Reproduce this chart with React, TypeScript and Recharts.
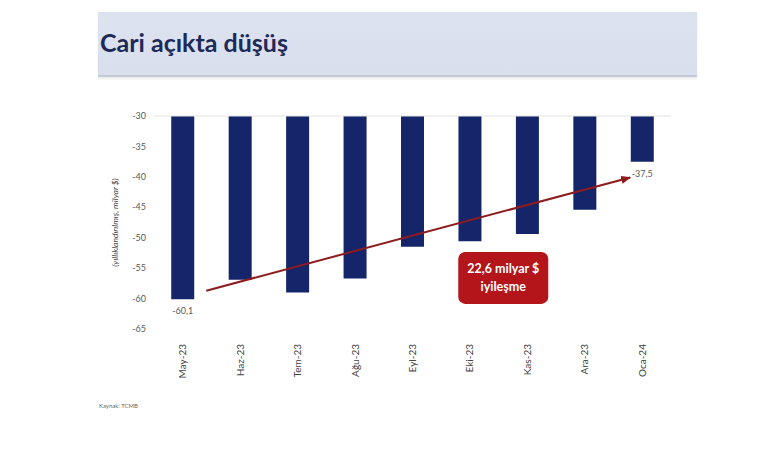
import React from "react";
import { BarChart, Bar, XAxis, YAxis, ReferenceLine, ReferenceDot, LabelList } from "recharts";

const months = ["May-23", "Haz-23", "Tem-23", "Ağu-23", "Eyl-23", "Eki-23", "Kas-23", "Ara-23", "Oca-24"];
const deficit = [-60.1, -56.9, -59.0, -56.7, -51.5, -50.6, -49.4, -45.4, -37.5];
const valueLabels = ["-60,1", "", "", "", "", "", "", "", "-37,5"];
const yTicks = [-30, -35, -40, -45, -50, -55, -60, -65];
// arrow endpoints: category + fractional band offset
const arrowStart = { cat: "May-23", offset: 0.41, y: -58.7 };
const arrowEnd = { cat: "Oca-24", offset: -0.21, y: -40.1 };
const boxPos = { cat: "Kas-23", offset: -0.42, y: -56.6 };
const boxLines = ["22,6 milyar $", "iyileşme"];

const data = months.map((m, i) => ({ month: m, value: deficit[i], label: valueLabels[i] }));

const FONT = "Lato, 'Open Sans', 'Noto Sans', sans-serif";

const XTick = (props: any) => {
  const { x, y, payload } = props;
  return (
    <text
      x={x}
      y={y}
      transform={`rotate(-90, ${x}, ${y})`}
      textAnchor="end"
      dy={3.5}
      fontSize={10}
      fill="#404040"
      fontFamily={FONT}
    >
      {payload.value}
    </text>
  );
};

const catSpan = months.indexOf(arrowEnd.cat) - months.indexOf(arrowStart.cat);

const ArrowShape = (props: any) => {
  const { x1, y1, x2, y2 } = props;
  const band = (x2 - x1) / catSpan;
  const sx = x1 + arrowStart.offset * band;
  const ex = x2 + arrowEnd.offset * band;
  return (
    <g>
      <defs>
        <marker id="arrowHead" viewBox="0 0 10 10" refX="9" refY="5" markerWidth="5" markerHeight="5" orient="auto">
          <path d="M0,1 L10,5 L0,9 z" fill="#8E1B1E" />
        </marker>
      </defs>
      <line x1={sx} y1={y1} x2={ex} y2={y2} stroke="#8E1B1E" strokeWidth={2} markerEnd="url(#arrowHead)" />
    </g>
  );
};

const BoxShape = (props: any) => {
  const { cx: rawCx, cy } = props;
  const band = 517 / months.length;
  const cx = rawCx + boxPos.offset * band;
  const w = 90;
  const h = 52;
  return (
    <g>
      <rect x={cx - w / 2} y={cy - h / 2} width={w} height={h} rx={7} ry={7} fill="#B3151B" />
      <text x={cx} y={cy - 5} textAnchor="middle" fill="#ffffff" fontSize={12.5} fontWeight="bold" fontFamily={FONT}>
        {boxLines[0]}
      </text>
      <text x={cx} y={cy + 13} textAnchor="middle" fill="#ffffff" fontSize={12.5} fontWeight="bold" fontFamily={FONT}>
        {boxLines[1]}
      </text>
    </g>
  );
};

const ValueLabel = (props: any) => {
  const { x, y, width, height, value } = props;
  if (!value) return null;
  const bottom = Math.max(y, y + height);
  return (
    <text x={x + width / 2} y={bottom + 15} textAnchor="middle" fontSize={9} fill="#595959" fontFamily={FONT}>
      {value}
    </text>
  );
};

export default function App() {
  return (
    <div style={{ position: "absolute", left: 0, top: 0, width: 760, height: 450, background: "#ffffff", fontFamily: FONT }}>
      <div
        style={{
          position: "absolute",
          left: 98,
          top: 12,
          width: 599,
          height: 63,
          background: "linear-gradient(#dde2ef, #d9dfed)",
          borderBottom: "2px solid #c3c9d8",
          boxShadow: "0 2px 2px rgba(0,0,0,0.08)",
        }}
      >
        <div
          style={{
            position: "absolute",
            left: 2,
            top: 15,
            fontSize: 25,
            fontWeight: "bold",
            color: "#1d2a58",
            fontFamily: FONT,
            lineHeight: "30px",
          }}
        >
          Cari açıkta düşüş
        </div>
      </div>
      <div style={{ position: "absolute", left: 0, top: 0 }}>
        <BarChart
          width={760}
          height={450}
          data={data}
          margin={{ top: 116, right: 89, bottom: 71, left: 94 }}
          barCategoryGap="30%"
        >
          <XAxis
            dataKey="month"
            axisLine={false}
            tickLine={false}
            height={50}
            interval={0}
            tick={<XTick />}
            tickMargin={9}
          />
          <YAxis
            type="number"
            domain={[-65, -30]}
            ticks={yTicks}
            interval={0}
            axisLine={false}
            tickLine={false}
            tickSize={0}
            tickMargin={8}
            width={60}
            tick={{ fontSize: 9, fill: "#595959", fontFamily: FONT }}
            label={{
              value: "(yıllıklandırılmış, milyar $)",
              angle: -90,
              position: "insideLeft",
              offset: 21,
              style: { fontSize: 8.5, fontStyle: "italic", fill: "#404040", fontFamily: FONT, textAnchor: "middle" },
            }}
          />
          <ReferenceLine y={-30} stroke="#e4e4e4" strokeWidth={1} />
          <Bar dataKey="value" fill="#15256a" isAnimationActive={false}>
            <LabelList dataKey="label" content={<ValueLabel />} />
          </Bar>
          <ReferenceLine
            segment={[
              { x: arrowStart.cat, y: arrowStart.y },
              { x: arrowEnd.cat, y: arrowEnd.y },
            ]}
            shape={<ArrowShape />}
            ifOverflow="visible"
          />
          <ReferenceDot x={boxPos.cat} y={boxPos.y} r={1} shape={<BoxShape />} ifOverflow="visible" />
        </BarChart>
      </div>
      <div style={{ position: "absolute", left: 99, top: 402, fontSize: 6, color: "#666", fontFamily: FONT }}>
        Kaynak: TCMB
      </div>
    </div>
  );
}
